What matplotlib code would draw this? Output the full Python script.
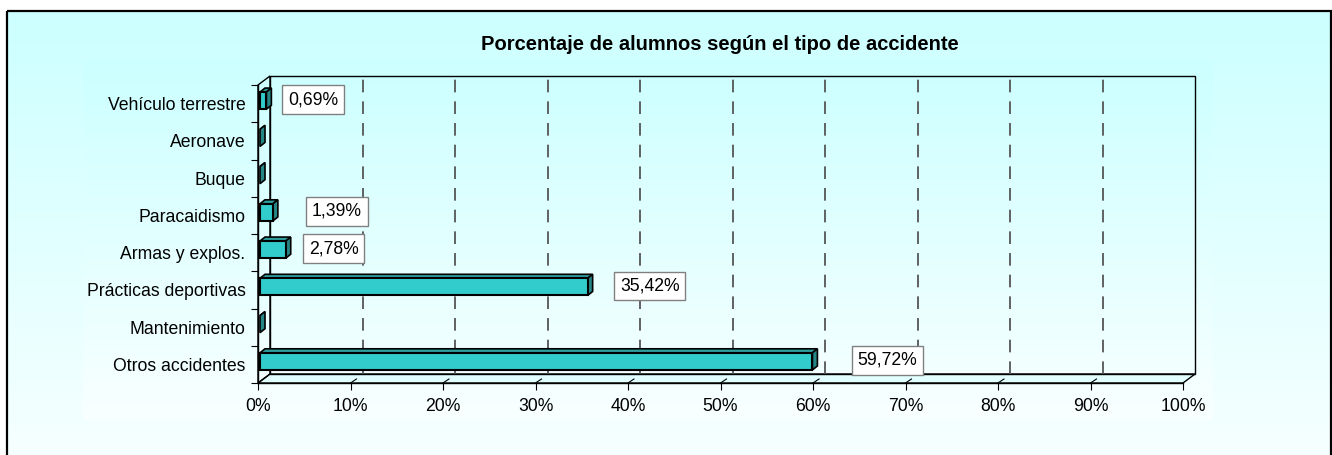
import numpy as np
import matplotlib
matplotlib.use("Agg")
import matplotlib.pyplot as plt
from matplotlib.patches import Rectangle, Polygon

plt.rcParams['font.family'] = ['Liberation Sans', 'DejaVu Sans']

# categories listed bottom -> top
categorias = ["Otros accidentes", "Mantenimiento", "Prácticas deportivas",
              "Armas y explos.", "Paracaidismo", "Buque", "Aeronave",
              "Vehículo terrestre"]
porcentajes = [59.72, 0.0, 35.42, 2.78, 1.39, 0.0, 0.0, 0.69]
ticks_x = list(range(0, 101, 10))
titulo = "Porcentaje de alumnos según el tipo de accidente"

W, H = 1332, 455
fig = plt.figure(figsize=(W / 100, H / 100), dpi=100)
fig.patch.set_facecolor("white")

# background in pixel coords
bg = fig.add_axes([0, 0, 1, 1], zorder=0)
bg.set_xlim(0, W)
bg.set_ylim(H, 0)
bg.axis("off")

def vgrad(ax, x0, x1, y0, y1, top, bottom):
    t = np.linspace(0, 1, 256)[:, None]
    c0 = np.array(matplotlib.colors.to_rgb(top))
    c1 = np.array(matplotlib.colors.to_rgb(bottom))
    img = c0 + (c1 - c0) * t[..., None]
    img = np.repeat(img, 2, axis=1)
    ax.imshow(img, extent=(x0, x1, y1, y0), aspect="auto", zorder=0,
              interpolation="bilinear")

vgrad(bg, 7, 1331, 11, H, "#CCFFFF", "#F6FFFF")
vgrad(bg, 83, 1213, 60, 420, "#CCFFFF", "#F9FFFF")
bg.add_patch(Rectangle((7, 11), 1323.5, 460, fill=False, ec="black", lw=1.6,
                       zorder=2))
bg.set_xlim(0, W)
bg.set_ylim(H, 0)

fig.text(720 / W, 1 - 45 / H, titulo, ha="center", va="center",
         fontsize=14.5, fontweight="bold")

# main axes: front plane
ax = fig.add_axes([258 / W, 72 / H, 925 / W, 298 / H], zorder=1)
ax.set_xlim(0, 100)
ax.set_ylim(-0.5, len(categorias) - 0.5)
ax.patch.set_alpha(0)

px = 100 / 925
py = len(categorias) / 298
dX, dY = 12 * px, 9 * py
y_lo, y_hi = -0.5, len(categorias) - 0.5

# floor, left wall, back wall
floor = Polygon([(0, y_lo), (100, y_lo), (100 + dX, y_lo + dY), (dX, y_lo + dY)],
                closed=True, fc="#E2FFFF", ec="black", lw=1, clip_on=False, zorder=1)
ax.add_patch(floor)
ax.add_patch(Polygon([(0, y_lo), (dX, y_lo + dY), (dX, y_hi + dY), (0, y_hi)],
                     closed=True, fill=False, ec="black", lw=1, clip_on=False, zorder=1))
ax.add_patch(Rectangle((dX, y_lo + dY), 100, y_hi - y_lo, fill=False,
                       ec="black", lw=1, clip_on=False, zorder=1))
for v in ticks_x[1:-1]:
    ax.plot([v + dX, v + dX], [y_lo + dY, y_hi + dY], color="#555555", lw=1.3,
            dashes=(7, 5), clip_on=False, zorder=1)
    ax.plot([v, v + 6 * px], [y_lo, y_lo + 4 * py], color="black", lw=0.8,
            clip_on=False, zorder=2)

# 3D bars
h = 0.46
bx, by = 5 * px, 4 * py
ox, oy = 2 * px, 3 * py
for i, v in enumerate(porcentajes):
    x0, y0 = ox, i - h / 2 + oy
    ax.add_patch(Polygon([(x0, y0 + h), (x0 + v, y0 + h), (x0 + v + bx, y0 + h + by),
                          (x0 + bx, y0 + h + by)], closed=True, fc="#2E9E9E",
                         ec="black", lw=1.2, clip_on=False, zorder=3))
    ax.add_patch(Polygon([(x0 + v, y0), (x0 + v + bx, y0 + by), (x0 + v + bx, y0 + h + by),
                          (x0 + v, y0 + h)], closed=True, fc="#268585",
                         ec="black", lw=1.2, clip_on=False, zorder=3))
    if v > 0:
        ax.add_patch(Rectangle((x0, y0), v, h, fc="#33CCCC", ec="black", lw=1.5,
                               clip_on=False, zorder=4))

# value labels
label_shift = {7: 47, 4: 64, 3: 48, 2: 62, 0: 75}
for i, v in enumerate(porcentajes):
    if v > 0:
        xt = ox + v + label_shift[i] * px
        ax.text(xt, i + oy + 1 * py, f"{v:.2f}%".replace(".", ","), ha="center",
                va="center", fontsize=12.7, zorder=5,
                bbox=dict(boxstyle="square,pad=0.33", fc="white", ec="#808080", lw=1))

for s in ["top", "right"]:
    ax.spines[s].set_visible(False)
ax.spines["left"].set_linewidth(1)
ax.spines["bottom"].set_linewidth(1)

ax.set_xticks(ticks_x)
ax.set_xticklabels([f"{v}%" for v in ticks_x])
ax.tick_params(axis="x", direction="out", length=5, width=0.8, pad=6, labelsize=12.7)
ax.set_yticks(range(len(categorias)))
ax.set_yticklabels(categorias)
ax.tick_params(axis="y", which="major", length=0, pad=9, labelsize=12.7)
ax.set_yticks(np.arange(-0.5, len(categorias)), minor=True)
ax.tick_params(axis="y", which="minor", direction="out", length=5, width=0.8)

fig.savefig("out.png", dpi=100)
